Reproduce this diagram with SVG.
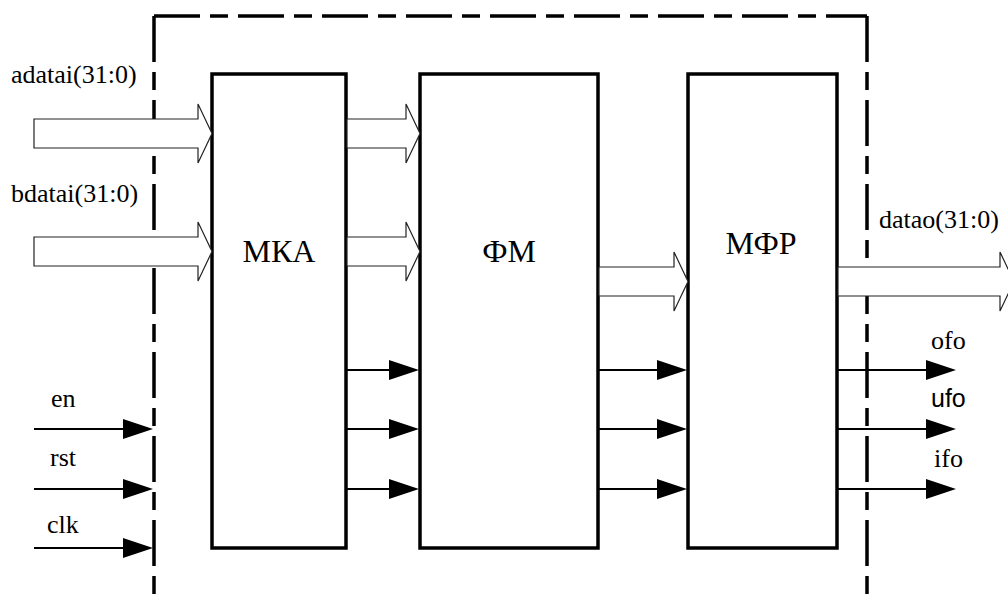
<svg xmlns="http://www.w3.org/2000/svg" width="1008" height="604" viewBox="0 0 1008 604">
<style>
  .bnd{fill:none;stroke:#000;stroke-width:3.5;stroke-dasharray:46 10 18 10}
  .box{fill:#fff;stroke:#000;stroke-width:3.5;stroke-linejoin:miter}
  .bus{fill:#fff;stroke:#222;stroke-width:1.2;stroke-linejoin:miter}
  .sig{stroke:#000;stroke-width:2;fill:none}
  .hd{fill:#000}
  .lbl{font-size:26px;fill:#000}
  .lbs{font-size:25px;fill:#000}
  .big{font-size:32px;fill:#000;text-anchor:middle}
</style>
<defs>
  <polygon id="head" points="-30,-10 0,0 -30,10"/>
</defs>
<g id="boundary">
  <path class="bnd" d="M154,16 L154,604"/>
  <path class="bnd" d="M154,16 L867,16"/>
  <path class="bnd" d="M867,16 L867,604"/>
</g>
<g id="MKA">
  <rect class="box" x="212" y="74" width="134" height="474"/>
  <text class="big" font-family="Liberation Serif, serif" x="279" y="262">МКА</text>
</g>
<g id="FM">
  <rect class="box" x="420" y="74" width="178" height="474"/>
  <text class="big" font-family="Liberation Serif, serif" x="509" y="262">ФМ</text>
</g>
<g id="MFR">
  <rect class="box" x="688" y="74" width="149" height="474"/>
  <text class="big" font-family="Liberation Serif, serif" x="761" y="254">МФР</text>
</g>
<g id="connectors">
  <polygon class="bus" points="34,119 198,119 198,104 212,133.5 198,163 198,148 34,148"/>
  <polygon class="bus" points="34,237 198,237 198,222 212,251.5 198,281 198,266 34,266"/>
  <polygon class="bus" points="347,119 406,119 406,104 420,133.5 406,163 406,148 347,148"/>
  <polygon class="bus" points="347,237 406,237 406,222 420,251.5 406,281 406,266 347,266"/>
  <polygon class="bus" points="599,267 674,267 674,252 688,281.5 674,311 674,296 599,296"/>
  <polygon class="bus" points="838,267 1000,267 1000,252 1014,281.5 1000,311 1000,296 838,296"/>
  <line class="sig" x1="34" y1="429" x2="130" y2="429"/>
  <use href="#head" class="hd" x="153" y="429"/>
  <line class="sig" x1="34" y1="489" x2="130" y2="489"/>
  <use href="#head" class="hd" x="153" y="489"/>
  <line class="sig" x1="34" y1="548" x2="130" y2="548"/>
  <use href="#head" class="hd" x="153" y="548"/>
  <line class="sig" x1="346" y1="370" x2="400" y2="370"/>
  <use href="#head" class="hd" x="419" y="370"/>
  <line class="sig" x1="346" y1="429" x2="400" y2="429"/>
  <use href="#head" class="hd" x="419" y="429"/>
  <line class="sig" x1="346" y1="489" x2="400" y2="489"/>
  <use href="#head" class="hd" x="419" y="489"/>
  <line class="sig" x1="598" y1="370" x2="670" y2="370"/>
  <use href="#head" class="hd" x="687" y="370"/>
  <line class="sig" x1="598" y1="429" x2="670" y2="429"/>
  <use href="#head" class="hd" x="687" y="429"/>
  <line class="sig" x1="598" y1="489" x2="670" y2="489"/>
  <use href="#head" class="hd" x="687" y="489"/>
  <line class="sig" x1="837" y1="370" x2="940" y2="370"/>
  <use href="#head" class="hd" x="956" y="370"/>
  <line class="sig" x1="837" y1="429" x2="940" y2="429"/>
  <use href="#head" class="hd" x="956" y="429"/>
  <line class="sig" x1="837" y1="489" x2="940" y2="489"/>
  <use href="#head" class="hd" x="956" y="489"/>
</g>
<g id="labels" font-family="Liberation Serif, serif">
  <text class="lbl" x="11" y="83">adatai(31:0)</text>
  <text class="lbl" x="11" y="202">bdatai(31:0)</text>
  <text class="lbl" x="51" y="407">en</text>
  <text class="lbl" x="50" y="466">rst</text>
  <text class="lbl" x="47" y="533">clk</text>
  <text class="lbl" x="879" y="228">datao(31:0)</text>
  <text class="lbl" x="931" y="349">ofo</text>
  <text class="lbs" font-family="Liberation Sans, sans-serif" x="931" y="407">ufo</text>
  <text class="lbl" x="934" y="467">ifo</text>
</g>
</svg>
